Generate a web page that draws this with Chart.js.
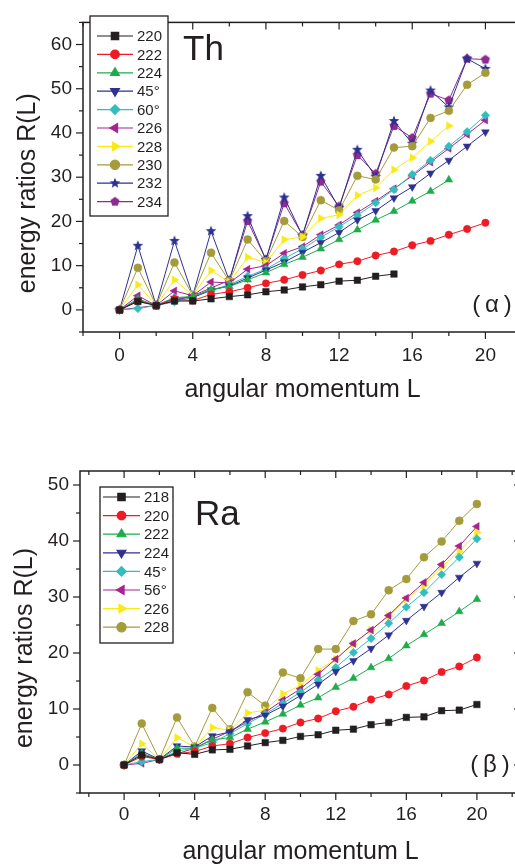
<!DOCTYPE html>
<html>
<head>
    <title>Energy ratios R(L) - Th and Ra</title>
    <style>
        html, body {
            margin: 0;
            padding: 0;
            background: #fff;
            overflow: hidden;
        }

        .panel {
            position: absolute;
            left: 0;
            width: 530px;
        }

        #thPanel { top: 0; height: 420px; }
        #raPanel { top: 440px; height: 427px; }
    </style>
</head>
<body>
    <div class="panel" id="thPanel"><canvas id="thChart"></canvas></div>
    <div class="panel" id="raPanel"><canvas id="raChart"></canvas></div>

    <script src="https://cdn.jsdelivr.net/npm/chart.js"></script>
    <script>
        // angular momentum L
        var angMom = [0, 1, 2, 3, 4, 5, 6, 7, 8, 9, 10, 11, 12, 13, 14, 15, 16, 17, 18, 19, 20];
        var xTickLabels = [0, 4, 8, 12, 16, 20];

        // (a) Th
        var thLabels = ['220', '222', '224', '45°', '60°', '226', '228', '230', '232', '234'];
        var th220 = [0, 1.9, 1, 2.0, 2.0, 2.5, 3.0, 3.4, 4.1, 4.5, 5.2, 5.7, 6.5, 6.7, 7.6, 8.1];
        var th222 = [0, 2.0, 1, 2.4, 2.1, 3.5, 4.1, 5.0, 6.0, 6.8, 7.9, 8.9, 10.3, 11.0, 12.3, 13.2, 14.6, 15.6, 17.0, 18.3, 19.7];
        var th224 = [0, 2.5, 1, 2.8, 3.0, 4.6, 5.3, 6.8, 8.4, 10.3, 11.9, 13.8, 15.9, 18.1, 20.3, 22.3, 24.6, 26.8, 29.4];
        var th45 = [0, 2.2, 1, 2.6, 2.8, 4.5, 5.4, 7.2, 9.0, 10.8, 13.0, 15.2, 17.5, 20.3, 22.4, 25.3, 27.8, 30.9, 33.8, 37.0, 40.2];
        var th60 = [0, 0.3, 1, 1.8, 2.8, 4.4, 5.7, 7.6, 9.2, 11.6, 13.8, 16.4, 18.8, 21.4, 24.2, 27.2, 30.6, 33.8, 37.0, 40.3, 44.0];
        var th226 = [0, 3.2, 1, 4.3, 3.2, 6.3, 6.1, 9.2, 10.0, 12.8, 14.3, 17.0, 19.2, 22.0, 24.6, 27.4, 30.3, 33.4, 36.5, 39.7, 42.9];
        var th228 = [0, 5.7, 1, 6.8, 3.3, 8.9, 6.3, 11.9, 10.7, 15.9, 16.5, 20.7, 21.5, 25.9, 27.6, 31.7, 34.4, 38.1, 41.6];
        var th230 = [0, 9.5, 1, 10.7, 3.3, 12.9, 6.5, 15.9, 11.0, 20.1, 16.5, 24.8, 22.5, 30.3, 29.5, 36.7, 37.0, 43.4, 45.0, 50.9, 53.6];
        var th232 = [0, 14.5, 1, 15.6, 3.2, 17.8, 6.6, 21.2, 11.3, 25.4, 16.8, 30.3, 23.0, 36.2, 30.1, 42.7, 37.6, 49.6, 45.8, 56.8, 54.5];
        var th234 = [0, null, 1, null, 3.2, null, 6.7, 20.1, 11.4, 24.1, 16.9, 29.0, 23.4, 35.0, 30.8, 41.6, 38.9, 48.9, 47.4, 56.8, 56.6];
        var thYTicks = [0, 10, 20, 30, 40, 50, 60];

        // (b) Ra
        var raLabels = ['218', '220', '222', '224', '45°', '56°', '226', '228'];
        var ra218 = [0, 1.8, 1, 2.2, 1.9, 2.7, 2.8, 3.4, 4.0, 4.4, 5.1, 5.4, 6.2, 6.4, 7.2, 7.6, 8.5, 8.6, 9.7, 9.8, 10.8];
        var ra220 = [0, 1.5, 1, 2.0, 2.4, 3.4, 3.8, 4.9, 5.7, 6.5, 7.6, 8.3, 9.6, 10.4, 11.7, 12.6, 14.1, 15.1, 16.6, 17.6, 19.2];
        var ra222 = [0, 2.1, 1, 3.0, 3.0, 4.5, 4.9, 6.4, 7.7, 9.1, 10.7, 12.0, 13.9, 15.5, 17.4, 19.0, 21.3, 23.3, 25.3, 27.4, 29.6];
        var ra224 = [0, 2.5, 1, 3.4, 3.2, 5.2, 5.9, 8.1, 8.9, 10.5, 12.4, 14.4, 16.7, 18.6, 20.8, 23.2, 25.8, 28.3, 30.8, 33.5, 36.0];
        var ra45 = [0, 0.6, 1, 2.5, 3.0, 4.0, 5.6, 7.4, 9.1, 11.0, 13.0, 15.2, 17.4, 20.1, 22.6, 25.3, 28.2, 30.8, 34.0, 37.1, 40.4];
        var ra56 = [0, 0.3, 1, 2.0, 3.0, 4.6, 6.0, 7.7, 9.4, 11.6, 13.6, 16.2, 18.9, 21.7, 24.1, 26.7, 29.8, 32.6, 35.8, 39.1, 42.6];
        var ra226 = [0, 3.8, 1, 4.9, 3.2, 6.7, 6.2, 9.3, 9.8, 12.7, 14.2, 16.9, 18.9, 21.6, 24.1, 26.6, 29.6, 32.1, 35.4, 38.1, 41.5];
        var ra228 = [0, 7.4, 1, 8.5, 3.3, 10.2, 6.4, 13.0, 10.6, 16.5, 15.5, 20.7, 20.7, 25.7, 26.9, 31.2, 33.2, 37.1, 39.9, 43.6, 46.6];
        var raYTicks = [0, 10, 20, 30, 40, 50];

        var ink = '#231f20';
        var font = '"Liberation Sans", Arial, Helvetica, sans-serif';

        // filled polygon / star markers (Chart.js has no filled star or pentagon)
        function polyMarker(color, corners, outer, inner) {
            var size = Math.ceil(outer * 2 + 2);
            var c = document.createElement('canvas');
            c.width = c.height = size;
            var g = c.getContext('2d');
            var n = inner ? corners * 2 : corners;
            g.fillStyle = color;
            g.beginPath();
            for (var i = 0; i < n; i++) {
                var r = (inner && i % 2) ? inner : outer;
                var a = -Math.PI / 2 + i * 2 * Math.PI / n;
                var px = size / 2 + r * Math.cos(a), py = size / 2 + r * Math.sin(a);
                if (i) g.lineTo(px, py); else g.moveTo(px, py);
            }
            g.closePath();
            g.fill();
            return c;
        }

        function series(label, values, color, style, radius, rotation) {
            return {
                label: label,
                data: values.map(function (v, i) { return { x: angMom[i], y: v }; }),
                borderColor: color,
                backgroundColor: color,
                pointBackgroundColor: color,
                pointBorderColor: color,
                pointBorderWidth: 0.5,
                borderWidth: 1,
                pointStyle: style,
                pointRadius: radius,
                pointRotation: rotation || 0,
                spanGaps: true,
                tension: 0
            };
        }

        var C = {
            black: '#231f20', red: '#ed1c24', green: '#1cac4b', blue: '#2e3192',
            cyan: '#31bebd', magenta: '#a8238f', yellow: '#f9ea15', olive: '#a59b3b',
            navy: '#2b3190', purple: '#8f2a90'
        };

        // frame, ticks, inner legend and labels
        var framePlugin = {
            id: 'frame',
            afterDatasetsDraw: function (chart, args, o) {
                var ctx = chart.ctx, a = chart.chartArea;
                var xs = chart.scales.x, ys = chart.scales.y;
                function seg(x1, y1, x2, y2) {
                    ctx.beginPath(); ctx.moveTo(x1, y1); ctx.lineTo(x2, y2); ctx.stroke();
                }
                ctx.save();
                ctx.strokeStyle = ink;
                ctx.lineWidth = 1.5;
                ctx.strokeRect(a.left, a.top, a.right - a.left, a.bottom - a.top);

                ctx.lineWidth = 1.2;
                var v, p, len;
                for (v = Math.ceil(xs.min / o.xMinor) * o.xMinor; v <= xs.max + 1e-9; v += o.xMinor) {
                    len = Math.abs(v % o.xMajor) < 1e-9 ? 7 : 4;
                    p = xs.getPixelForValue(v);
                    seg(p, a.bottom, p, a.bottom + len);
                    seg(p, a.top, p, a.top + len);
                }
                for (v = Math.ceil(ys.min / o.yMinor) * o.yMinor; v <= ys.max + 1e-9; v += o.yMinor) {
                    len = Math.abs(v % o.yMajor) < 1e-9 ? 7 : 4;
                    p = ys.getPixelForValue(v);
                    seg(a.left - len, p, a.left, p);
                    seg(a.right - len, p, a.right, p);
                }

                // legend box
                var L = o.legend;
                ctx.fillStyle = '#fff';
                ctx.fillRect(L.x, L.y, L.w, L.h);
                ctx.strokeStyle = ink;
                ctx.lineWidth = 1.3;
                ctx.strokeRect(L.x, L.y, L.w, L.h);
                chart.data.datasets.forEach(function (d, i) {
                    var y = L.firstY + i * L.row;
                    ctx.strokeStyle = d.borderColor;
                    ctx.lineWidth = 1.2;
                    seg(L.x0, y, L.x1, y);
                    ctx.fillStyle = d.pointBackgroundColor;
                    Chart.helpers.drawPoint(ctx, {
                        pointStyle: d.pointStyle,
                        rotation: d.pointRotation,
                        radius: d.pointRadius + 0.6,
                        borderWidth: d.pointBorderWidth
                    }, (L.x0 + L.x1) / 2, y);
                    ctx.fillStyle = ink;
                    ctx.font = '15px ' + font;
                    ctx.textAlign = 'left';
                    ctx.textBaseline = 'middle';
                    ctx.fillText(d.label, L.textX, y + 1);
                });

                // element name and panel tag
                ctx.fillStyle = ink;
                ctx.font = '35px ' + font;
                ctx.textAlign = 'left';
                ctx.textBaseline = 'alphabetic';
                ctx.fillText(o.name, o.nameX, o.nameY);
                ctx.font = '24px ' + font;
                ctx.textAlign = 'center';
                ctx.textBaseline = 'middle';
                ctx.fillText(o.tag, o.tagX, o.tagY);

                // y axis title, sits a little below the plot centre
                ctx.save();
                ctx.translate(o.yTitleX, (a.top + a.bottom) / 2 + 16);
                ctx.rotate(-Math.PI / 2);
                ctx.font = '25px ' + font;
                ctx.fillText('energy ratios R(L)', 0, 0);
                ctx.restore();
                ctx.restore();
            }
        };

        function makeChart(id, datasets, opts) {
            return new Chart(document.getElementById(id), {
                type: 'line',
                data: { datasets: datasets },
                plugins: [framePlugin],
                options: {
                    responsive: true,
                    maintainAspectRatio: false,
                    animation: false,
                    events: [],
                    layout: { padding: opts.padding },
                    plugins: {
                        legend: { display: false },
                        tooltip: { enabled: false },
                        frame: opts.frame
                    },
                    scales: {
                        x: {
                            type: 'linear',
                            min: opts.xMin,
                            max: opts.xMax,
                            afterFit: function (s) { s.height = opts.xHeight; },
                            afterBuildTicks: function (s) {
                                s.ticks = xTickLabels.map(function (v) { return { value: v }; });
                            },
                            grid: { display: false, drawTicks: false },
                            border: { display: false },
                            ticks: {
                                padding: opts.xPad,
                                color: ink,
                                font: { family: font, size: 19 },
                                maxRotation: 0
                            },
                            title: {
                                display: true,
                                text: 'angular momentum L',
                                color: ink,
                                font: { family: font, size: 25 },
                                padding: { top: 0, bottom: opts.titlePad }
                            }
                        },
                        y: {
                            type: 'linear',
                            min: opts.yMin,
                            max: opts.yMax,
                            afterFit: function (s) { s.width = opts.yWidth; },
                            afterBuildTicks: function (s) {
                                s.ticks = opts.yTicks.map(function (v) { return { value: v }; });
                            },
                            grid: { display: false, drawTicks: false },
                            border: { display: false },
                            ticks: {
                                padding: 11,
                                color: ink,
                                font: { family: font, size: 19 }
                            }
                        }
                    }
                }
            });
        }

        var tri = 'triangle';
        makeChart('thChart', [
            series(thLabels[0], th220, C.black, 'rect', 4.6),
            series(thLabels[1], th222, C.red, 'circle', 3.7),
            series(thLabels[2], th224, C.green, tri, 4.5),
            series(thLabels[3], th45, C.blue, tri, 4.5, 180),
            series(thLabels[4], th60, C.cyan, 'rectRot', 4.2),
            series(thLabels[5], th226, C.magenta, tri, 4.5, 270),
            series(thLabels[6], th228, C.yellow, tri, 4.5, 90),
            series(thLabels[7], th230, C.olive, 'circle', 4),
            series(thLabels[8], th232, C.navy, polyMarker(C.navy, 5, 5.6, 2.4), 4.5),
            series(thLabels[9], th234, C.purple, polyMarker(C.purple, 5, 4.8), 4.5)
        ], {
            padding: { top: 10, right: 8, left: 0, bottom: 0 },
            xMin: -2, xMax: 22, yMin: -5, yMax: 65,
            xHeight: 88, yWidth: 83, xPad: 12, titlePad: 15,
            yTicks: thYTicks,
            frame: {
                xMinor: 2, xMajor: 4, yMinor: 5, yMajor: 10,
                legend: { x: 90, y: 16, w: 78, h: 200, firstY: 36, row: 18.4, x0: 97, x1: 133, textX: 137 },
                name: 'Th', nameX: 183, nameY: 60,
                tag: '(\u2009\u03b1\u2009)', tagX: 492, tagY: 305,
                yTitleX: 28
            }
        });

        makeChart('raChart', [
            series(raLabels[0], ra218, C.black, 'rect', 4.6),
            series(raLabels[1], ra220, C.red, 'circle', 3.7),
            series(raLabels[2], ra222, C.green, tri, 4.5),
            series(raLabels[3], ra224, C.blue, tri, 4.5, 180),
            series(raLabels[4], ra45, C.cyan, 'rectRot', 4.2),
            series(raLabels[5], ra56, C.magenta, tri, 4.5, 270),
            series(raLabels[6], ra226, C.yellow, tri, 4.5, 90),
            series(raLabels[7], ra228, C.olive, 'circle', 4)
        ], {
            padding: { top: 31, right: 9, left: 0, bottom: 0 },
            xMin: -2.5, xMax: 22.5, yMin: -5, yMax: 52.5,
            xHeight: 74, yWidth: 80, xPad: 10, titlePad: 0,
            yTicks: raYTicks,
            frame: {
                xMinor: 2, xMajor: 4, yMinor: 5, yMajor: 10,
                legend: { x: 100, y: 47, w: 73, h: 156, firstY: 57, row: 18.6, x0: 103, x1: 140, textX: 144 },
                name: 'Ra', nameX: 195, nameY: 85,
                tag: '(\u2009\u03b2\u2009)', tagX: 490, tagY: 325,
                yTitleX: 25
            }
        });
    </script>
</body>
</html>
